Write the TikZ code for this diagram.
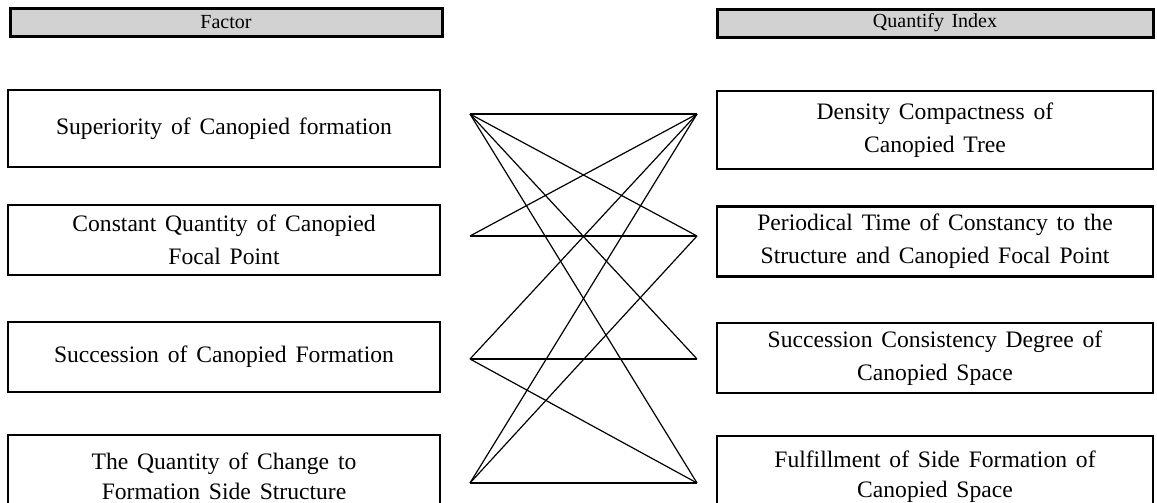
\documentclass[tikz,border=0pt]{standalone}
\usepackage{fontspec}
\setmainfont{Liberation Serif}[WordSpace=1.5]

\begin{document}
\begin{tikzpicture}[x=0.5pt, y=-0.5pt,
    header/.style={draw, line width=1.5pt, fill=gray!35, inner sep=0pt,
        minimum height=14pt, font=\fontsize{10}{11}\selectfont},
    itembox/.style={draw, line width=1.3pt, inner sep=0pt, align=center,
        minimum height=35pt, font=\fontsize{11.8}{16.5}\selectfont},
    factor/.style={itembox, minimum width=216pt},
    index/.style={itembox, minimum width=218pt},
    link/.style={line width=0.6pt}]
    \useasboundingbox (0,0) rectangle (1157,503);
    % headers
    \node[header, minimum width=216pt] (hf) at (226,22) {Factor};
    \node[header, minimum width=218pt] (hq) at (935,23) {Quantify Index};
    % left column
    \node[factor, minimum height=38.5pt] (f1) at (224,128.5) {Superiority of Canopied formation};
    \node[factor] (f2) at (224,240) {Constant Quantity of Canopied\\Focal Point};
    \node[factor] (f3) at (224,357) {Succession of Canopied Formation};
    \node[factor, minimum height=41pt] (f4) at (224,476) {The Quantity of Change to\\[-1.5pt]Formation Side Structure};
    % right column
    \node[index, minimum height=39pt] (q1) at (935,130) {Density Compactness of\\Canopied Tree};
    \node[index] (q2) at (935,241.5) {Periodical Time of Constancy to the\\Structure and Canopied Focal Point};
    \node[index] (q3) at (935,358) {Succession Consistency Degree of\\Canopied Space};
    \node[index, minimum height=41pt] (q4) at (935,477) {Fulfillment of Side Formation of\\[-1.5pt]Canopied Space};
    % end points of the links
    \foreach \n/\y in {1/114, 2/236, 3/359, 4/483} {
        \coordinate (a\n) at (470,\y);
        \coordinate (b\n) at (697,\y);
    }
    \foreach \i/\j in {1/1, 1/2, 1/3, 1/4, 2/1, 2/2, 3/1, 3/3, 3/4, 4/1, 4/2, 4/4} {
        \draw[link] (a\i) -- (b\j);
    }
\end{tikzpicture}
\end{document}
